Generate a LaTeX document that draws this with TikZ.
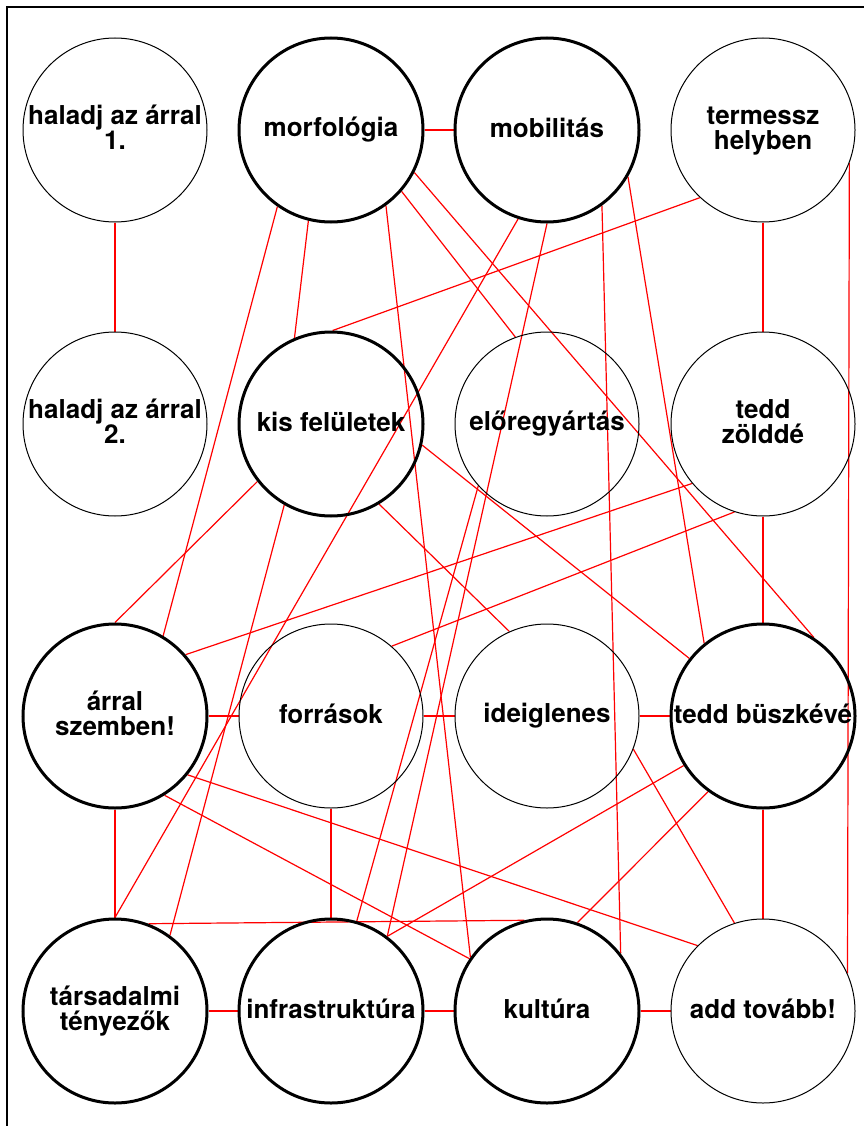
\documentclass[tikz,border=0pt]{standalone}
\usepackage{fontspec}
\setmainfont{TeX Gyre Heros}
\usetikzlibrary{backgrounds}
\newcommand\zc[1]{\makebox[0pt][c]{\rule[-5pt]{0pt}{24pt}#1}}
\tikzset{
  bub/.style={circle, draw=black, line width=1pt, minimum size=184pt, inner sep=0pt,
    align=center, font=\fontsize{26}{25}\selectfont\bfseries},
  bubthick/.style={bub, line width=3pt},
  link/.style={draw=red, line width=1.2pt},
  frameline/.style={draw=black, line width=2.5pt}
}
\begin{document}
\begin{tikzpicture}[x=1pt, y=-1pt]
\useasboundingbox (0,0) rectangle (864,1126);
% frame
\coordinate (fbl) at (7,1126);
\coordinate (ftl) at (7,7);
\coordinate (ftr) at (864,7);
\draw[frameline] (fbl) -- (ftl) -- (ftr);
% nodes
\node[bub]      (h1)    at (115,130)  {\zc{haladj az árral}\\\zc{1.}};
\node[bubthick] (morf)  at (331,130)  {\zc{morfológia}};
\node[bubthick] (mob)   at (547,130)  {\zc{mobilitás}};
\node[bub]      (term)  at (763,130)  {\zc{termessz}\\\zc{helyben}};
\node[bub]      (h2)    at (115,424)  {\zc{haladj az árral}\\\zc{2.}};
\node[bubthick] (kis)   at (331,424)  {\zc{kis felületek}};
\node[bub]      (elo)   at (547,424)  {\zc{előregyártás}};
\node[bub]      (zold)  at (763,424)  {\zc{tedd}\\\zc{zölddé}};
\node[bubthick] (arral) at (115,716)  {\zc{árral}\\\zc{szemben!}};
\node[bub]      (forr)  at (331,716)  {\zc{források}};
\node[bub]      (ideig) at (547,716)  {\zc{ideiglenes}};
\node[bubthick] (buszk) at (763,716)  {\zc{tedd büszkévé}};
\node[bubthick] (tars)  at (115,1011) {\zc{társadalmi}\\\zc{tényezők}};
\node[bubthick] (infra) at (331,1011) {\zc{infrastruktúra}};
\node[bubthick] (kult)  at (547,1011) {\zc{kultúra}};
\node[bub]      (add)   at (763,1011) {\zc{add tovább!}};
% links
\begin{scope}[on background layer]
\draw[link] (h1.270) -- (h2.90);
\draw[link] (morf.0) -- (mob.180);
\draw[link] (term.270) -- (zold.90);
\draw[link] (zold.270) -- (buszk.90);
\draw[link] (buszk.270) -- (add.90);
\draw[link] (arral.270) -- (tars.90);
\draw[link] (forr.270) -- (infra.90);
\draw[link] (arral.0) -- (forr.180);
\draw[link] (forr.0) -- (ideig.180);
\draw[link] (ideig.0) -- (buszk.180);
\draw[link] (tars.0) -- (infra.180);
\draw[link] (infra.0) -- (kult.180);
\draw[link] (kult.0) -- (add.180);
\draw[link] (term.339) -- (add.24);
\draw[link] (morf.235) -- (arral.59);
\draw[link] (morf.256) -- (kis.113);
\draw[link] (morf.306) -- (kult.145);
\draw[link] (morf.319) -- (elo.110);
\draw[link] (morf.333) -- (buszk.57);
\draw[link] (mob.252) -- (tars.90);
\draw[link] (mob.270) -- (infra.53);
\draw[link] (mob.306) -- (kult.38);
\draw[link] (mob.330) -- (buszk.129);
\draw[link] (term.227) -- (kis.89);
\draw[link] (zold.220) -- (arral.41);
\draw[link] (zold.252) -- (forr.49);
\draw[link] (kis.218) -- (arral.90);
\draw[link] (kis.240) -- (tars.54);
\draw[link] (kis.301) -- (ideig.114);
\draw[link] (kis.347) -- (buszk.142);
\draw[link] (elo.222) -- (infra.74);
\draw[link] (arral.302) -- (kult.146);
\draw[link] (arral.321) -- (add.135);
\draw[link] (ideig.339) -- (add.108);
\draw[link] (buszk.212) -- (infra.53);
\draw[link] (buszk.234) -- (kult.71);
\draw[link] (tars.69) -- (kult.104);
\end{scope}
\end{tikzpicture}
\end{document}
